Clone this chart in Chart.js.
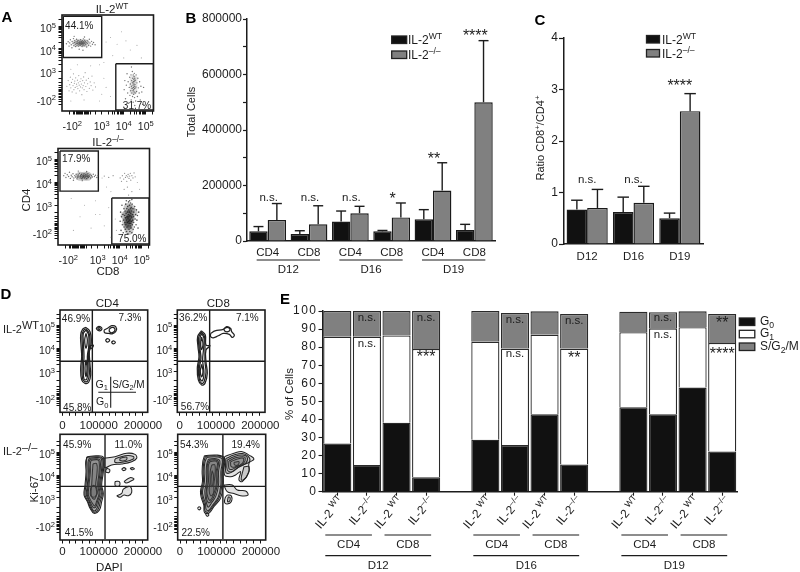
<!DOCTYPE html>
<html><head><meta charset="utf-8">
<script src="https://cdn.jsdelivr.net/npm/chart.js@4"></script>
<style>html,body{margin:0;padding:0;background:#fff;width:800px;height:572px;overflow:hidden}canvas{position:absolute;left:0;top:0}</style>
</head><body>
<script>
// ---------- Panel B ----------
const bCategories=['CD4','CD8','CD4','CD8','CD4','CD8'];
const bWT=[35000,25000,70000,35000,78000,40000];
const bKO=[76000,60000,100000,85000,182000,500000];
const bWTerr=[52000,37000,108000,38000,113000,60000];
const bKOerr=[135000,127000,125000,137000,282000,722000];
const bSig=['n.s.','n.s.','n.s.','*','**','****'];
const bSigY=[160000,160000,160000,166000,310000,754000];
const bDays=['D12','D16','D19'];
// ---------- Panel C ----------
const cCategories=['D12','D16','D19'];
const cWT=[0.67,0.62,0.5];
const cKO=[0.7,0.8,2.58];
const cWTerr=[0.85,0.91,0.6];
const cKOerr=[1.06,1.12,2.92];
const cSig=['n.s.','n.s.','****'];
const cSigY=[1.26,1.26,3.15];
// ---------- Panel E ----------
const eCategories=['WT','KO','WT','KO','','WT','KO','WT','KO','','WT','KO','WT','KO'];
const eG0=[26.7,14.8,38.2,8,null,28.8,25.8,42.8,15.1,null,46.7,42.8,57.6,22.3];
const eG1=[59.1,71,48.3,71,null,54.2,53.4,44.1,64.1,null,41.5,47.6,33.4,60];
const eS=[14.2,14.2,13.5,21,null,17,19.7,12.9,19.1,null,11.4,8.9,8.8,16];
const eNotes=[[1,96.8,'n.s.'],[1,82.1,'n.s.'],[3,96.8,'n.s.'],[3,76.6,'***'],[6,95.4,'n.s.'],[6,76.6,'n.s.'],[8,95,'n.s.'],[8,76,'**'],[11,96.5,'n.s.'],[11,87.3,'n.s.'],[13,95.4,'**'],[13,78.4,'****']];
// ---------- Panel A (log10 units) ----------
const aTopCD4=[1.40,4.22,1.48,4.31,1.52,4.12,1.55,4.26,1.58,4.40,1.62,4.18,1.65,4.05,1.66,4.32,1.70,4.24,1.72,4.45,1.74,4.14,1.76,4.28,1.78,4.36,1.80,4.20,1.82,4.10,1.83,4.30,1.85,4.24,1.86,4.42,1.88,4.16,1.89,4.33,1.90,4.26,1.92,4.22,1.93,4.37,1.95,4.12,1.96,4.29,1.97,4.19,1.98,4.24,2.00,4.34,2.01,4.27,2.02,4.15,2.03,4.22,2.04,4.40,2.05,4.30,2.06,4.18,2.07,4.25,2.08,4.33,2.09,4.21,2.10,4.28,2.11,4.10,2.12,4.36,2.13,4.24,2.14,4.17,2.15,4.30,2.16,4.26,2.17,4.44,2.18,4.21,2.19,4.33,2.20,4.14,2.21,4.27,2.23,4.38,2.24,4.22,2.26,4.31,2.28,4.18,2.30,4.27,2.32,4.08,2.34,4.36,2.36,4.23,2.38,4.30,2.41,4.16,2.44,4.42,2.47,4.26,2.50,4.12,2.54,4.33,2.58,4.20,2.63,4.28,2.70,4.18,1.98,3.98,2.15,3.94,1.75,4.55,2.22,4.52];
const aTopDN=[1.42,2.35,1.48,2.6,1.52,2.15,1.55,2.42,1.58,2.75,1.6,2.28,1.63,2.52,1.66,2.1,1.68,2.66,1.7,2.38,1.72,2.9,1.74,2.2,1.76,2.48,1.78,2.58,1.8,2.3,1.82,2.72,1.84,2.05,1.86,2.44,1.88,2.35,1.9,2.62,1.92,2.25,1.94,2.5,1.96,2.82,1.98,2.4,2,2.15,2.02,2.56,2.04,2.32,2.06,2.68,2.08,2.45,2.1,1.98,2.12,2.28,2.14,2.6,2.16,2.38,2.18,2.76,2.2,2.2,2.22,2.5,2.25,2.95,2.28,2.34,2.3,2.62,2.33,2.12,2.36,2.46,2.4,2.7,2.44,2.26,2.48,2.54,2.52,2.38,2.56,2.8,2.6,2.18,2.66,2.5,2.72,2.32];
const aTopCD8=[4.02,2.2,4.05,2.6,4.08,1.8,4.12,2.4,4.15,2.9,4.18,2.05,4.2,2.55,4.22,1.6,4.25,2.3,4.27,2.75,4.28,1.95,4.3,2.45,4.32,2.15,4.33,2.85,4.34,1.75,4.35,2.35,4.36,2.6,4.37,2.05,4.38,2.25,4.39,3.0,4.4,2.5,4.4,1.9,4.41,2.7,4.42,2.15,4.42,2.4,4.43,2.85,4.43,1.65,4.44,2.3,4.44,2.55,4.45,2.0,4.45,2.2,4.46,2.65,4.46,2.45,4.47,2.78,4.47,2.1,4.48,2.35,4.48,2.92,4.49,1.85,4.49,2.58,4.5,2.25,4.5,2.7,4.51,2.42,4.52,2.05,4.53,2.62,4.54,1.7,4.55,2.32,4.56,2.85,4.58,2.12,4.6,2.5,4.62,1.9,4.64,2.7,4.66,2.28,4.7,2.05,4.72,2.55,4.75,1.75,4.78,2.35,4.82,2.1,4.86,1.55,4.9,2.3,4.35,3.2,4.5,1.5];
const aTopRest=[3.2,4.3,3.4,4.5,3.7,4.2,3.9,4.75,4.1,4.35,4.3,3.95,4.6,4.15,3.5,3.7,4.0,3.6,3.1,3.4,2.9,3.3,2.5,3.25,1.9,3.3,1.6,3.1,3.2,2.3,3.4,1.9,3.1,2.7,3.0,2.0,2.9,1.7,2.2,1.75,1.6,1.7,4.8,3.6];
const aTopDense=[1.85,4.25,2.0,4.27,2.15,4.25,2.28,4.25,4.44,2.4,4.45,2.65,4.44,2.15];
const aLowCD4=[1.46,4.3,1.52,4.4,1.56,4.22,1.62,4.34,1.68,4.26,1.72,4.45,1.76,4.18,1.8,4.32,1.84,4.25,1.88,4.38,1.92,4.2,1.96,4.3,2.0,4.24,2.02,4.36,2.06,4.16,2.08,4.28,2.1,4.22,2.12,4.33,2.15,4.26,2.17,4.4,2.2,4.2,2.22,4.3,2.24,4.25,2.26,4.35,2.28,4.18,2.3,4.28,2.32,4.22,2.34,4.32,2.36,4.26,2.38,4.38,2.4,4.2,2.42,4.3,2.44,4.24,2.46,4.34,2.48,4.27,2.5,4.18,2.52,4.32,2.54,4.25,2.56,4.38,2.58,4.22,2.6,4.3,2.62,4.26,2.65,4.34,2.68,4.2,2.72,4.3,2.76,4.24,2.8,4.36,2.85,4.26,2.9,4.32,2.96,4.22,3.02,4.3,1.9,4.1,2.3,4.08,2.5,4.48,2.12,4.5];
const aLowDP=[4.02,4.2,4.08,4.05,4.12,4.3,4.18,4.15,4.22,4.4,4.26,4.22,4.3,4.3,4.32,4.05,4.36,4.25,4.38,4.35,4.42,4.18,4.45,4.28,4.48,4.4,4.5,4.1,4.55,4.3,4.6,4.2,4.65,4.42,4.7,4.25,3.7,4.3,3.5,4.22,3.3,4.28,4.35,3.8,4.55,3.6,4.4,3.45,4.2,3.7];
const aLowCD8=[4.02,2.3,4.04,2.7,4.06,1.9,4.08,2.5,4.1,3.0,4.12,2.15,4.14,2.6,4.16,1.8,4.18,2.35,4.19,2.85,4.2,2.05,4.22,2.55,4.23,2.25,4.24,2.75,4.25,1.95,4.26,2.45,4.27,3.05,4.28,2.15,4.29,2.65,4.3,2.35,4.31,1.85,4.32,2.85,4.33,2.05,4.34,2.5,4.35,2.25,4.36,2.95,4.36,2.7,4.37,1.75,4.38,2.4,4.38,2.1,4.39,2.6,4.4,3.15,4.4,2.3,4.41,2.8,4.42,1.95,4.42,2.5,4.43,2.2,4.44,3.0,4.44,2.7,4.45,2.35,4.46,1.85,4.46,2.55,4.47,2.1,4.48,2.85,4.48,2.4,4.49,3.1,4.5,2.65,4.5,2.2,4.51,2.0,4.52,2.9,4.52,2.5,4.53,2.3,4.54,2.75,4.55,1.8,4.55,2.45,4.56,3.05,4.57,2.15,4.58,2.6,4.59,2.35,4.6,2.85,4.61,1.95,4.62,2.5,4.63,2.25,4.64,2.7,4.66,2.05,4.68,2.95,4.7,2.4,4.72,2.6,4.74,2.15,4.76,2.8,4.78,2.35,4.8,2.55,4.83,2.0,4.86,2.7,4.3,3.2,4.55,3.25,4.45,3.2];
const aLowRest=[3.2,4.2,3.4,3.8,3.6,3.6,2.9,3.2,2.4,3.0,3.1,2.6,3.3,2.1,2.7,2.0,2.2,2.5,1.8,3.3,3.5,2.9,3.8,2.4,3.85,1.9,3.6,1.6,2.9,2.6,1.9,1.9,4.9,3.7,4.8,4.0];
const aLowDense=[4.35,2.1,4.4,2.35,4.45,2.6,4.5,2.85,4.3,2.3,4.42,2.15,4.5,2.45,4.35,2.6,4.25,2.55,4.6,2.7,4.38,2.9,4.4,2.2,4.45,2.4,4.42,1.9,2.2,4.27,2.4,4.27,2.55,4.27];
const aGateUpper=[[1.26,5.43,3,3.62],[1.29,5.38,3.03,3.62]];
const aGateLower=[[3.64,3.34,5.35,1.31],[3.64,3.32,5.33,1.31]];
const logTicksX=[1.55,1.7,1.78,1.85,1.9,1.95,2,2.05,2.1,2.15,2.2,2.25,2.3,2.35,2.4,2.5,2.7,3,3.3,3.48,3.6,3.7,3.78,3.85,3.9,3.95,4,4.3,4.48,4.6,4.7,4.78,4.85,4.9,4.95,5,5.3];
const logTicksY=[1.55,1.68,1.78,1.85,1.92,1.98,2.04,2.1,2.16,2.22,2.3,2.4,2.5,2.7,3,3.3,3.48,3.6,3.7,3.78,3.85,3.9,3.95,4,4.3,4.48,4.6,4.7,4.78,4.85,4.9,4.95,5,5.3];
const logLabels=[[1.8,'-10^{2}'],[3,'10^{3}'],[4,'10^{4}'],[5,'10^{5}']];
// ---------- Panel D contours (DAPI in thousands, Ki-67 in log10 units) ----------
const dTL=[
[71,4.93,83,4.74,87,4.37,85,4.08,81,3.86,83,3.28,85,2.84,79,2.52,68,2.47,58,2.62,55,3.13,58,3.64,56,4.15,55,4.59,61,4.85],
[70,4.87,80,4.68,83,4.37,82,4.08,78,3.8,80,3.28,81,2.87,76,2.58,68,2.55,61,2.66,59,3.13,61,3.64,60,4.15,59,4.59,64,4.8],
[71,4.81,79,4.59,79,4.08,75,3.64,77,2.99,73,2.65,65,2.65,63,3.13,65,3.64,63,4.30,63,4.66],
[71,4.66,75,4.37,71,4.01,67,4.37],[71,3.5,74,3.13,71,2.77,68,3.13],
[83,4.12,93,4.15,88,4.01,81,4.01],
[102,4.91,110,4.97,118,4.91,117,4.81,109,4.78,103,4.85],[106,4.9,111,4.92,114,4.88,110,4.83],
[125,4.81,138,4.91,148,5,160,4.96,161,4.77,151,4.65,139,4.66,127,4.69],[141,4.85,149,4.93,157,4.88,156,4.75,147,4.69,141,4.75],
[129,4.36,135,4.43,142,4.36,135,4.28],[147,4.27,153,4.33,159,4.27,153,4.2]];
const dTR=[
[65,4.78,77,4.59,79,4.15,91,4.12,79,3.93,79,3.42,83,2.91,76,2.47,66,2.4,56,2.62,53,3.13,58,3.64,55,4.08,54,4.52],
[65,4.72,74,4.55,76,4.15,76,3.9,76,3.42,79,2.95,73,2.53,66,2.47,59,2.65,56,3.13,61,3.62,58,4.05,57,4.48],
[66,4.66,73,4.45,72,4.01,69,3.5,73,2.91,68,2.58,61,2.69,59,3.13,64,3.57,61,4.01,61,4.45],
[66,4.5,70,4.2,66,3.95,63,4.2],[66,3.3,70,3,66,2.75,62,3],
[93,4.66,106,4.77,131,4.84,141,4.96,153,4.88,156,4.74,164,4.59,158,4.49,149,4.62,131,4.66,116,4.56,101,4.47,93,4.52],
[133,4.87,143,4.93,151,4.84,145,4.74,135,4.77]];
const dBL=[
[75,4.81,103,4.85,123,4.78,123,4.15,118,3.57,123,3.2,118,2.84,111,2.47,95,2.33,83,2.55,75,2.84,65,3.13,68,3.57,71,4.15,70,4.59],
[73,4.78,103,4.81,120,4.75,120,4.15,115,3.57,120,3.2,114,2.85,107,2.5,95,2.38,85,2.57,77,2.85,68,3.13,71,3.57,74,4.15,73,4.57],
[80,4.74,103,4.77,117,4.72,117,4.15,112,3.57,117,3.2,110,2.87,104,2.55,95,2.43,87,2.6,80,2.87,72,3.13,75,3.57,78,4.15,77,4.55],
[83,4.7,103,4.72,113,4.67,113,4.12,109,3.57,113,3.2,106,2.87,100,2.6,93,2.58,85,2.78,80,2.93,75,3.14,77,3.57,81,4.15,80,4.52],
[86,4.65,103,4.68,110,4.62,110,4.1,106,3.57,110,3.2,103,2.87,97,2.65,91,2.75,83,2.95,78,3.15,80,3.57,84,4.15,84,4.5],
[92,4.5,103,4.5,104,4.1,100,3.57,103,3.2,97,2.95,90,3,86,3.2,88,3.57,90,4.1],
[85,3.45,95,3.55,105,3.3,98,3.05,85,3.1],
[125,4.74,158,4.81,193,4.96,218,4.91,223,4.74,208,4.59,178,4.49,148,4.45,131,4.33,125,4.37],
[158,4.71,188,4.85,213,4.82,213,4.71,188,4.59,158,4.56],[173,4.74,193,4.79,191,4.66,173,4.64],
[133,4.3,142,4.25,140,4.12,130,4.15],[178,4.27,185,4.33,191,4.26,183,4.2],[203,4.3,210,4.33,216,4.28,209,4.24],
[158,3.72,171,3.72,171,3.53,159,3.53],[185,3.72,203,3.89,215,3.83,203,3.72,191,3.66],
[163,3.1,178,3.2,183,3.39,203,3.5,208,3.25,198,3.1,185,3.13,173,3.03]];
const dBR=[
[73,4.85,111,4.88,133,4.74,129,4.15,129,3.57,121,2.99,101,2.62,86,2.33,73,2.37,71,2.69,64,2.99,61,3.28,67,3.72,66,4.15,68,4.59],
[76,4.82,110,4.84,130,4.72,125,4.15,125,3.57,117,3.01,99,2.65,85,2.39,75,2.43,73,2.72,67,3.01,64,3.28,70,3.72,69,4.15,71,4.57],
[80,4.78,110,4.8,126,4.7,122,4.15,122,3.57,114,3.03,97,2.68,85,2.45,78,2.5,76,2.75,70,3.03,67,3.28,73,3.72,72,4.15,74,4.55],
[85,4.7,108,4.72,119,4.62,115,4.15,115,3.57,107,3.08,94,2.78,84,2.6,78,2.85,74,3.28,79,3.72,78,4.15,80,4.5],
[88,4.65,107,4.67,115,4.57,111,4.15,111,3.57,103,3.11,92,2.84,84,2.8,78,3.1,80,3.5,81,3.72,81,4.15,82,4.47],
[90,4.6,106,4.62,112,4.52,108,4.15,108,3.57,100,3.15,90,2.9,84,3,80,3.3,85,3.72,84,4.15,85,4.45],
[95,4.45,104,4.45,105,4.1,101,3.57,100,3.22,92,3.1,87,3.35,90,3.72,90,4.15],
[96,4.2,100,4,98,3.6,93,3.5,93,3.9],
[133,4.81,161,4.96,186,5.03,206,4.88,221,4.71,206,4.52,206,4.15,186,3.72,176,3.79,181,4.15,166,4.01,151,3.93,133,4.01],
[137,4.73,161,4.88,186,4.95,204,4.82,208,4.6,190,4.45,170,4.3,150,4.1,137,4.12],
[141,4.66,161,4.81,186,4.88,201,4.77,196,4.52,176,4.37,156,4.15,141,4.23],
[146,4.62,166,4.76,188,4.81,195,4.75,190,4.52,170,4.37,155,4.25,146,4.3],
[151,4.59,171,4.71,189,4.74,186,4.52,166,4.37,153,4.37],[161,4.56,176,4.59,173,4.45,163,4.45],
[191,4.37,206,4.37,199,3.93,183,3.79],
[131,3.57,156,3.57,171,3.35,196,3.31,203,3.13,181,3.1,161,3.2,141,3.28],
[141,3.13,153,3.1,153,2.84,141,2.74,133,2.81,135,3.01],[144,3.05,149,3.03,149,2.88,142,2.84],
[52,2.55,57,2.62,62,2.55,57,2.48],[76,2.3,81,2.35,86,2.26,81,2.2]];
const dGateX=[90,90,128,128];
const dGateY=[3.44,3.44,3.51,3.51];
const dapiTicks=[0,20,40,60,80,100,120,140,160,180,200,220,240];
const dapiLabels=[[0,'0',0],[100,'100000',3],[200,'200000',14]];
const dLogTicks=[1.5,1.6,1.68,1.74,1.8,1.86,1.92,1.98,2.04,2.1,2.2,2.35,2.6,3,3.3,3.48,3.6,3.7,3.78,3.85,3.9,3.95,4,4.3,4.48,4.6,4.7,4.78,4.85,4.9,4.95,5,5.3,5.48];
const dPct=[[['46.9%',76,318.3],['7.3%',130,317.7],['45.8%',77.3,407.3]],[['36.2%',193.3,317.3],['7.1%',247.3,317.3],['56.7%',195,406]],[['45.9%',77.3,444],['11.0%',128.3,444],['41.5%',79,532.3]],[['54.3%',194.3,444],['19.4%',245.7,444],['22.5%',195.7,532.3]]];

// ---------- helpers ----------
const FF='"Liberation Sans", Arial, sans-serif', INK='#1c1c1c', W=800, H=572;
Chart.defaults.font.family=FF; Chart.defaults.color=INK; Chart.defaults.animation=false;
function rich(ctx,s,x,y,o={}){const size=o.size||11.5,weight=o.weight||'',sc=o.supScale||.72;const parts=[];s.replace(/([\^_])\{([^}]*)\}|([^\^_]+)/g,(m,k,a,t)=>{parts.push(t?{t,k:''}:{t:a,k});return m});
 ctx.save();ctx.fillStyle=o.color||INK;ctx.textBaseline='alphabetic';ctx.textAlign='left';
 const f=p=>ctx.font=`${weight} ${p.k?size*sc:size}px ${FF}`;let tot=0;parts.forEach(p=>{f(p);p.w=ctx.measureText(p.t).width;tot+=p.w});
 ctx.translate(x,y);if(o.rot)ctx.rotate(o.rot);let cx=o.align==='left'?0:o.align==='right'?-tot:-tot/2;const base=size*.36;
 parts.forEach(p=>{f(p);ctx.fillText(p.t,cx,base+(p.k==='^'?-size*.4:p.k==='_'?size*.25:0));cx+=p.w});ctx.restore();}
function line(ctx,x1,y1,x2,y2,w=1.2){ctx.save();ctx.strokeStyle=INK;ctx.lineWidth=w;ctx.beginPath();ctx.moveTo(x1,y1);ctx.lineTo(x2,y2);ctx.stroke();ctx.restore();}
function swatch(ctx,x,y,w,h,c){ctx.save();ctx.fillStyle=c;ctx.strokeStyle='#222';ctx.lineWidth=1.3;ctx.fillRect(x,y,w,h);ctx.strokeRect(x,y,w,h);ctx.restore();}
function mk(a,config,notes,before){const c=document.createElement('canvas');c.width=W;c.height=H;c.style.width=W+'px';c.style.height=H+'px';document.body.appendChild(c);
 config.options=Object.assign({responsive:false,maintainAspectRatio:false,layout:{padding:{left:a.l-(a.yw||0),top:a.t,right:W-a.r,bottom:H-a.b-(a.xh||0)}},plugins:{legend:{display:false},tooltip:{enabled:false}},events:[]},config.options);
 config.plugins=[{id:'n',beforeDraw:ch=>{if(config.spacing)ch.ctx.letterSpacing=config.spacing},beforeDatasetsDraw:ch=>{before&&before(ch,ch.ctx)},afterDraw:ch=>{ch.ctx.letterSpacing='0px';notes&&notes(ch,ch.ctx)}}];
 return new Chart(c.getContext('2d'),config);}
const fit0={w:s=>{s.width=0},h:s=>{s.height=0},w60:s=>{s.width=60},h30:s=>{s.height=30}};
function errBars(ch,ctx,errs,cap){const ys=ch.scales.y;errs.forEach((arr,i)=>{ch.getDatasetMeta(i).data.forEach((b,j)=>{const x=b.x,y=ys.getPixelForValue(arr[j]);line(ctx,x,b.y,x,y,1.4);line(ctx,x-cap/2,y,x+cap/2,y,1.4);});});}
function legend2(ctx,x,y1,y2,sw,sh,tx){swatch(ctx,x,y1,sw,sh,'#111');swatch(ctx,x,y2,sw,sh,'#808080');rich(ctx,'IL-2^{WT}',tx,y1+sh/2,{align:'left',size:12});rich(ctx,'IL-2^{–/–}',tx,y2+sh/2,{align:'left',size:12});}
function star(ctx,t,x,y){if(t[0]==='*')rich(ctx,t,x,y+3.2,{size:16});else rich(ctx,t,x,y,{size:11.5});}

// ---------- B ----------
mk({l:247,t:19,r:495,b:241,yw:60,xh:30},{type:'bar',data:{labels:bCategories,datasets:[
 {label:'IL-2 WT',data:bWT,backgroundColor:'#111',borderColor:'#1a1a1a',borderWidth:1.4},
 {label:'IL-2 KO',data:bKO,backgroundColor:'#808080',borderColor:'#1a1a1a',borderWidth:1.4}]},
 options:{scales:{x:{afterFit:fit0.h30,border:{color:INK,width:1.5},grid:{display:false,drawTicks:false},ticks:{autoSkip:false,maxRotation:0,padding:5,font:{size:11.5},color:INK}},
 y:{min:0,max:800000,afterFit:fit0.w60,border:{color:INK,width:1.5},grid:{drawOnChartArea:false,tickLength:4,tickColor:INK,tickWidth:1.2},ticks:{stepSize:100000,padding:1,font:{size:12},color:INK,callback:v=>v%200000===0?v:''}}},
 datasets:{bar:{categoryPercentage:.89,barPercentage:1}}}},
 (ch,ctx)=>{const xs=ch.scales.x,ys=ch.scales.y;
  bSig.forEach((t,i)=>star(ctx,t,xs.getPixelForTick(i)+1,ys.getPixelForValue(bSigY[i])));
  bDays.forEach((d,i)=>{const a=xs.getPixelForTick(i*2)-11,b=xs.getPixelForTick(i*2+1)+11;line(ctx,a,260,b,260);rich(ctx,d,(a+b)/2,268.5,{size:11.5});});
  legend2(ctx,391.7,36,51,15,7.5,408);
  rich(ctx,'Total Cells',191,112,{size:11,rot:-Math.PI/2});
  rich(ctx,'B',191,17.5,{size:15,weight:'bold',color:'#000'});
 },(ch,ctx)=>errBars(ch,ctx,[bWTerr,bKOerr],10));
// ---------- C ----------
mk({l:564,t:38,r:703,b:244,yw:20,xh:30},{type:'bar',data:{labels:cCategories,datasets:[
 {label:'IL-2 WT',data:cWT,backgroundColor:'#111',borderColor:'#1a1a1a',borderWidth:1.4},
 {label:'IL-2 KO',data:cKO,backgroundColor:'#808080',borderColor:'#1a1a1a',borderWidth:1.4}]},
 options:{scales:{x:{afterFit:fit0.h30,border:{color:INK,width:1.5},grid:{display:false,drawTicks:false},ticks:{autoSkip:false,maxRotation:0,padding:6,font:{size:11.5},color:INK}},
 y:{min:0,max:4,afterFit:s=>{s.width=20},border:{color:INK,width:1.5},grid:{drawOnChartArea:false,tickLength:5,tickColor:INK,tickWidth:1.2},ticks:{stepSize:1,padding:1,font:{size:12},color:INK}}},
 datasets:{bar:{categoryPercentage:.888,barPercentage:1}}}},
 (ch,ctx)=>{const xs=ch.scales.x,ys=ch.scales.y;
  cSig.forEach((t,i)=>star(ctx,t,xs.getPixelForTick(i),ys.getPixelForValue(cSigY[i])));
  legend2(ctx,646.5,35.5,49.5,13,7.5,662);
  rich(ctx,'Ratio CD8^{+}/CD4^{+}',540,138,{size:11,rot:-Math.PI/2});
  rich(ctx,'C',540,19.5,{size:15,weight:'bold',color:'#000'});
 },(ch,ctx)=>errBars(ch,ctx,[cWTerr,cKOerr],11.5));
// ---------- E ----------
mk({l:322.5,t:311,r:737,b:491.7,yw:40,xh:10},{spacing:'1.5px',type:'bar',data:{labels:eCategories,datasets:[
 {label:'G0',data:eG0,backgroundColor:'#111'},{label:'G1',data:eG1,backgroundColor:'#fff'},{label:'S/G2/M',data:eS,backgroundColor:'#808080'}]},
 options:{scales:{x:{stacked:true,afterFit:s=>{s.height=10},border:{color:INK,width:1.5},grid:{drawOnChartArea:false,offset:false,tickLength:4,tickWidth:1.1,tickColor:c=>eCategories[c.index]?INK:'rgba(0,0,0,0)'},ticks:{autoSkip:false,maxRotation:0,callback:()=>''}},
 y:{stacked:true,min:0,max:100,afterFit:s=>{s.width=40},border:{color:INK,width:1.5},grid:{drawOnChartArea:false,tickLength:4,tickColor:INK,tickWidth:1.1},ticks:{stepSize:10,padding:1,font:{size:12},color:INK}}},
 datasets:{bar:{categoryPercentage:.95,barPercentage:1,borderColor:'#2a2a2a',borderWidth:1.3}}}},
 (ch,ctx)=>{const xs=ch.scales.x,ys=ch.scales.y;
  eCategories.forEach((c,i)=>{if(!c)return;const x=xs.getPixelForTick(i)+(c==='WT'?4:5);rich(ctx,c==='WT'?'IL-2 ^{WT}':'IL-2^{–/–}',x,498,{size:12,align:'right',rot:-50*Math.PI/180});});
  eNotes.forEach(([i,v,t])=>star(ctx,t,xs.getPixelForTick(i),ys.getPixelForValue(v)));
  [[0,'D12'],[5,'D16'],[10,'D19']].forEach(([s,d])=>{const p=k=>xs.getPixelForTick(k);
   const a=p(s)-12,b=p(s+1)+5,c=p(s+2)-12,e=p(s+3)+5;line(ctx,a,535,b,535);line(ctx,c,535,e,535);line(ctx,a,555.7,e,555.7);
   rich(ctx,'CD4',(a+b)/2,543.5);rich(ctx,'CD8',(c+e)/2,543.5);rich(ctx,d,(a+e)/2,564.7);});
  swatch(ctx,739.3,318,15.5,7.5,'#111');swatch(ctx,739.3,330.3,15.5,7.5,'#fff');swatch(ctx,739.3,343,15.5,7.5,'#808080');
  rich(ctx,'G_{0}',760,320.5,{align:'left',size:12});rich(ctx,'G_{1}',760,333,{align:'left',size:12});rich(ctx,'S/G_{2}/M',760,346,{align:'left',size:12});
  rich(ctx,'% of Cells',289,394,{size:11.5,rot:-Math.PI/2});
  rich(ctx,'E',285,299,{size:15,weight:'bold',color:'#000'});
 });
// ---------- flow helpers ----------
const pts=a=>{const o=[];for(let i=0;i<a.length;i+=2)o.push({x:a[i],y:a[i+1]});return o};
const dots=(a,r,c)=>({data:pts(a),pointRadius:r,pointBackgroundColor:c,pointBorderWidth:0,showLine:false});
const poly=(a,w,c,tension,fillC)=>({data:pts(a.concat(a.slice(0,2))),pointRadius:0,showLine:true,borderColor:c,borderWidth:w,tension,fill:fillC?'shape':false,backgroundColor:fillC||'transparent'});
const gate=g=>poly([g[0],g[1],g[2],g[1],g[2],g[3],g[0],g[3]],1.4,INK,0);
function axis(range,vals,fit,pos){return {type:'linear',position:pos,min:range[0],max:range[1],bounds:'data',afterFit:fit,afterBuildTicks:s=>{s.ticks=vals.map(v=>({value:v}))},border:{display:false},grid:{drawOnChartArea:false,offset:false,tickLength:3.5,tickColor:'#111',tickWidth:1},ticks:{autoSkip:false,maxRotation:0,padding:0,callback:()=>''}};}
function frame(ch,ctx){const a=ch.chartArea;ctx.save();ctx.strokeStyle=INK;ctx.lineWidth=1.6;ctx.strokeRect(a.left,a.top,a.right-a.left,a.bottom-a.top);ctx.restore();}
function flowA(a,sets,titleTxt,titleX,titleY,pct,extra){
 mk(a,{type:'scatter',data:{datasets:sets},options:{scales:{x:axis([1.2,5.35],logTicksX,fit0.h,'bottom'),y:axis([1.26,5.49],logTicksY,fit0.w,'left')}}},
 (ch,ctx)=>{frame(ch,ctx);const xs=ch.scales.x,ys=ch.scales.y,ar=ch.chartArea;
  logLabels.forEach(([v,t])=>{rich(ctx,t,xs.getPixelForValue(v)+(v<2?-3:0),ar.bottom+15,{size:10.5});rich(ctx,t,ar.left-6,ys.getPixelForValue(v)+2,{size:10.5,align:'right'});});
  rich(ctx,titleTxt,titleX,titleY,{size:11.5});pct.forEach(p=>rich(ctx,p[0],p[1],p[2],{size:10}));extra&&extra(ctx);});
}
const DOT='rgba(55,55,55,.7)';
flowA({l:62,t:15,r:153.5,b:111},[dots(aTopDense,4,'rgba(60,60,60,.14)'),dots(aTopCD4,.7,DOT),dots(aTopDN,.6,'rgba(80,80,80,.55)'),dots(aTopCD8,.7,DOT),dots(aTopRest,.55,'rgba(100,100,100,.55)'),gate(aGateUpper[0]),gate(aGateLower[0])],
 'IL-2^{WT}',112,9,[['44.1%',79.3,25],['31.7%',137,105]],ctx=>rich(ctx,'A',7,17,{size:15,weight:'bold',color:'#000'}));
flowA({l:58,t:148.5,r:149.5,b:245},[dots(aLowDense,4.5,'rgba(25,25,25,.24)'),dots(aLowCD4,.7,DOT),dots(aLowDP,.65,'rgba(70,70,70,.6)'),dots(aLowCD8,.8,'rgba(30,30,30,.75)'),dots(aLowRest,.55,'rgba(100,100,100,.55)'),gate(aGateUpper[1]),gate(aGateLower[1])],
 'IL-2^{–/–}',108,142,[['17.9%',76.3,158.3],['75.0%',132.3,238.3]],ctx=>{rich(ctx,'CD4',25.7,200,{size:11.5,rot:-Math.PI/2});rich(ctx,'CD8',108,271,{size:11.5});});
function flowD(a,contours,k,extra){
 const sets=contours.map(c=>poly(c,k<2?1.25:1.05,'#222',.4,k<2?null:'rgba(70,70,70,.16)'));
 sets.push({data:[{x:dGateX[k],y:1.2},{x:dGateX[k],y:5.8}],showLine:true,pointRadius:0,borderColor:INK,borderWidth:1.4});
 sets.push({data:[{x:-7,y:dGateY[k]},{x:256,y:dGateY[k]}],showLine:true,pointRadius:0,borderColor:INK,borderWidth:1.4});
 const yr=k<2?[1.2,5.69]:[1.16,5.79];
 mk(a,{type:'scatter',data:{datasets:sets},options:{scales:{x:axis([-7,256],dapiTicks,fit0.h,'bottom'),y:axis(yr,dLogTicks,fit0.w,'left')}}},
 (ch,ctx)=>{frame(ch,ctx);const xs=ch.scales.x,ys=ch.scales.y,ar=ch.chartArea;
  dapiLabels.forEach(([v,t,off])=>rich(ctx,t,xs.getPixelForValue(v)+off,ar.bottom+(k<2?13:11),{size:11.5}));
  logLabels.forEach(([v,t])=>rich(ctx,t,ar.left-5,ys.getPixelForValue(v)+2,{size:10.5,align:'right'}));
  dPct[k].forEach(p=>rich(ctx,p[0],p[1],p[2],{size:10}));extra&&extra(ctx);});
}
flowD({l:60,t:310,r:147.7,b:412.3},dTL,0,ctx=>{rich(ctx,'CD4',107.3,303.3,{size:11.5});rich(ctx,'IL-2^{WT}',3,329,{size:11,supScale:1,align:'left'});rich(ctx,'D',6,294,{size:15,weight:'bold',color:'#000'});
 line(ctx,110.7,376.7,110.7,407.7,1.1);line(ctx,98.3,392.3,136,392.3,1.1);rich(ctx,'G_{1}',101.7,384,{size:10.5});rich(ctx,'S/G_{2}/M',128.5,384,{size:10});rich(ctx,'G_{0}',102.3,401.7,{size:10.5});});
flowD({l:177.3,t:310,r:265,b:412.3},dTR,1,ctx=>rich(ctx,'CD8',218.3,303.3,{size:11.5}));
flowD({l:60,t:434.3,r:147.7,b:540},dBL,2,ctx=>{rich(ctx,'IL-2^{–/–}',3,451,{size:11,supScale:1,align:'left'});rich(ctx,'Ki-67',34,489,{size:11.5,rot:-Math.PI/2});rich(ctx,'DAPI',109.3,566.7,{size:11.5});});
flowD({l:177.7,t:434.3,r:265.7,b:540},dBR,3);
</script>
</body></html>
